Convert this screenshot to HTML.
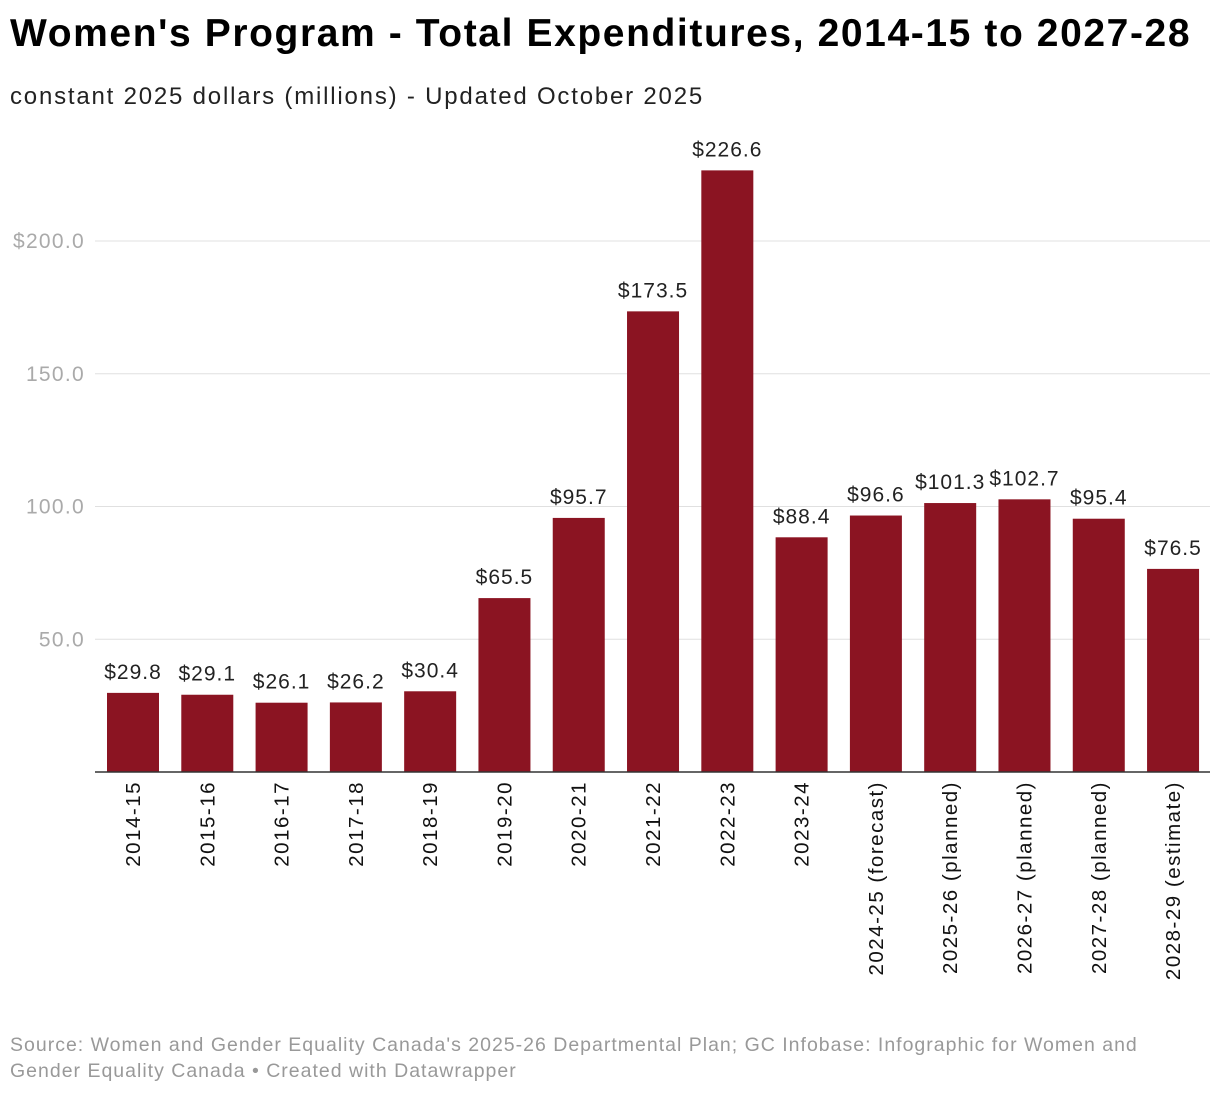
<!DOCTYPE html>
<html><head><meta charset="utf-8">
<style>
body{margin:0;background:#fff;font-family:"Liberation Sans",Arial,sans-serif;}
#wrap{position:relative;width:1220px;height:1094px;overflow:hidden;}
h1{position:absolute;left:10px;top:12px;margin:0;font-size:39px;font-weight:bold;color:#000;letter-spacing:1.6px;white-space:nowrap;}
.sub{position:absolute;left:10px;top:83px;font-size:24px;color:#222;letter-spacing:1.8px;white-space:nowrap;}
.src{position:absolute;left:10px;top:1032px;font-size:19.5px;color:#999;line-height:26px;letter-spacing:1.0px;white-space:nowrap;}
</style></head><body>
<div id="wrap">
<h1>Women's Program - Total Expenditures, 2014-15 to 2027-28</h1>
<div class="sub">constant 2025 dollars (millions) - Updated October 2025</div>
<svg id="chart" width="1220" height="1094" style="position:absolute;left:0;top:0"></svg>
<div class="src">Source: Women and Gender Equality Canada's 2025-26 Departmental Plan; GC Infobase: Infographic for Women and<br>Gender Equality Canada • Created with Datawrapper</div>
</div>
<script>
const categories=["2014-15","2015-16","2016-17","2017-18","2018-19","2019-20","2020-21","2021-22","2022-23","2023-24","2024-25 (forecast)","2025-26 (planned)","2026-27 (planned)","2027-28 (planned)","2028-29 (estimate)"];
const values=[29.8,29.1,26.1,26.2,30.4,65.5,95.7,173.5,226.6,88.4,96.6,101.3,102.7,95.4,76.5];
const yTicks=[50,100,150,200];
const yTickLabels=["50.0","100.0","150.0","$200.0"];
const NS="http://www.w3.org/2000/svg";
const svg=document.getElementById('chart');
const y0=772,pxPerUnit=2.655;
function yScale(v){return y0-v*pxPerUnit;}
const firstX=107,step=74.29,bw=52;
function xScale(i){return firstX+i*step;}
function mk(t,a){const e=document.createElementNS(NS,t);for(const k in a)e.setAttribute(k,a[k]);svg.appendChild(e);return e;}
yTicks.forEach((t,i)=>{
  const y=yScale(t);
  const g=mk('line',{x1:95,x2:1210,y1:y,y2:y,stroke:'#e0e0e0','stroke-width':1});
  
  
  const tx=mk('text',{x:85,y:y+7,'text-anchor':'end','font-size':21,'letter-spacing':1.3,fill:'#aaa'});
  tx.textContent=yTickLabels[i];
  
  
});
values.forEach((v,i)=>{
  const x=xScale(i),y=yScale(v);
  const r=mk('rect',{x:x,y:y,width:bw,height:y0-y,fill:'#8b1422'});
  
  
  const t=mk('text',{x:x+bw/2,y:y-14,'text-anchor':'middle','font-size':21,'letter-spacing':1,fill:'#222'});
  t.textContent='$'+v.toFixed(1);
  
  
  const cx=x+bw/2+7;
  const l=mk('text',{x:0,y:0,'text-anchor':'end','font-size':20.5,'letter-spacing':1.5,fill:'#111',transform:`translate(${cx},781) rotate(-90)`});
  l.textContent=categories[i];
  
  
});
const ax=mk('line',{x1:95,x2:1210,y1:y0,y2:y0,stroke:'#333','stroke-width':1.5});


</script>
</body></html>
